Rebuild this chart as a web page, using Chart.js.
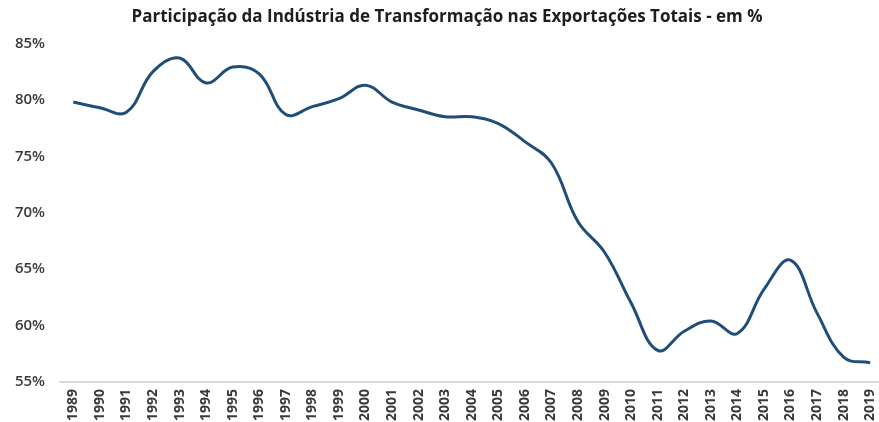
<!DOCTYPE html>
<html>
<head>
<meta charset="utf-8">
<script src="https://cdn.jsdelivr.net/npm/chart.js@4/dist/chart.umd.min.js"></script>
<style>
  html, body { margin: 0; padding: 0; background: #fff; overflow: hidden; }
  #wrap { width: 894px; height: 422px; position: relative; }
</style>
</head>
<body>
<div id="wrap"><canvas id="myChart"></canvas></div>
<script>
const years = [
  "1989", "1990", "1991", "1992", "1993", "1994", "1995", "1996", "1997", "1998",
  "1999", "2000", "2001", "2002", "2003", "2004", "2005", "2006", "2007", "2008",
  "2009", "2010", "2011", "2012", "2013", "2014", "2015", "2016", "2017", "2018", "2019",
];
const participacao = [
  79.8, 79.3, 78.9, 82.5, 83.7, 81.5, 82.9, 82.3, 78.7, 79.4,
  80.1, 81.3, 79.8, 79.1, 78.5, 78.5, 77.9, 76.3, 74.4, 69.2,
  66.5, 62.0, 57.8, 59.5, 60.4, 59.3, 63.2, 65.8, 61.1, 57.2, 56.7,
];
const yTicks = [55, 60, 65, 70, 75, 80, 85];

const labelColor = "#3a3a3a";
const fontFamily = "'Open Sans', 'Liberation Sans', sans-serif";

const ctx = document.getElementById("myChart").getContext("2d");
const myChart = new Chart(ctx, {
  type: "line",
  data: {
    labels: years,
    datasets: [
      {
        label: "Participação",
        data: participacao,
        borderColor: "#1F4E79",
        borderWidth: 3,
        pointRadius: 0,
        tension: 0.4,
        fill: false,
      },
    ],
  },
  options: {
    responsive: true,
    maintainAspectRatio: false,
    animation: false,
    layout: { padding: { left: 0, right: 0, top: 0, bottom: 0 } },
    plugins: {
      legend: { display: false },
      tooltip: { enabled: false },
      title: {
        display: true,
        text: "Participação da Indústria de Transformação nas Exportações Totais - em %",
        color: "#1e1e1e",
        font: { family: fontFamily, size: 17, weight: "bold" },
        padding: { top: 7, bottom: 16 },
      },
    },
    scales: {
      x: {
        offset: true,
        grid: { display: false, drawTicks: false },
        border: { display: true, color: "#d9d9d9", width: 2 },
        ticks: {
          color: labelColor,
          font: { family: fontFamily, size: 14, weight: "bold" },
          minRotation: 90,
          maxRotation: 90,
          autoSkip: false,
          padding: 7,
        },
        afterFit: (scale) => { scale.height = 40; },
      },
      y: {
        min: yTicks[0],
        max: yTicks[yTicks.length - 1],
        grid: { display: false, drawTicks: false },
        border: { display: false },
        afterBuildTicks: (scale) => { scale.ticks = yTicks.map((v) => ({ value: v })); },
        ticks: {
          color: labelColor,
          font: { family: fontFamily, size: 15, weight: "600" },
          padding: 15,
          callback: (v) => v + "%",
        },
        afterFit: (scale) => { scale.width = 60; },
      },
    },
  },
});
</script>
</body>
</html>
